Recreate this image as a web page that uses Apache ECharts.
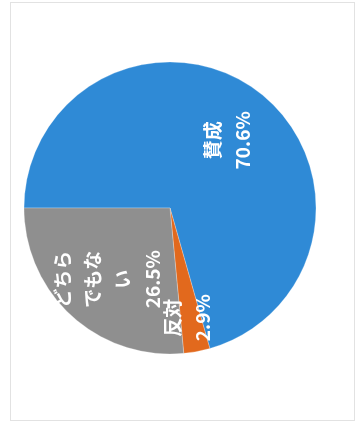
<!DOCTYPE html>
<html>
<head>
<meta charset="utf-8">
<script src="https://cdn.jsdelivr.net/npm/echarts@6/dist/echarts.min.js"></script>
<style>
  html, body { margin: 0; padding: 0; background: #fff; }
  #chart { position: absolute; left: 0; top: 0; width: 360px; height: 432px; }
  #frame { position: absolute; left: 10px; top: 2px; width: 345px; height: 419px;
           box-sizing: border-box; border: 1px solid #e2e2e2; pointer-events: none; }
</style>
</head>
<body>
<div id="chart"></div>
<div id="frame"></div>
<script>
const categories = ['賛成', '反対', 'どちらでもない'];
const values = [70.6, 2.9, 26.5];
const colors = ['#2f8ad6', '#e2691d', '#8f8f8f'];

// label offsets in the rotated label frame (layout only)
const labelShift = [[7, 12], [-35, 4], [-15, -11]];

function wrap(name) {
  return name.match(/.{1,3}/g).join('\n');
}

const chart = echarts.init(document.getElementById('chart'), null, { renderer: 'canvas' });
chart.setOption({
  backgroundColor: '#fff',
  animation: false,
  series: [{
    type: 'pie',
    center: [170, 208],
    radius: [0, 146],
    startAngle: 180,
    clockwise: true,
    data: categories.map((c, i) => ({ name: c, value: values[i], itemStyle: { color: colors[i] } })),
    itemStyle: { borderColor: 'rgba(255,255,255,0.5)', borderWidth: 0.5 },
    label: {
      show: true,
      position: 'inside',
      rotate: 90,
      color: '#fff',
      fontFamily: '"Noto Sans CJK JP", "Noto Sans", sans-serif',
      fontWeight: 'bold',
      fontSize: 19,
      lineHeight: 30,
      formatter: p => wrap(p.name) + '\n' + p.value.toFixed(1) + '%'
    },
    labelLine: { show: false },
    labelLayout: p => ({ dx: labelShift[p.dataIndex][0], dy: labelShift[p.dataIndex][1] })
  }]
});
</script>
</body>
</html>
